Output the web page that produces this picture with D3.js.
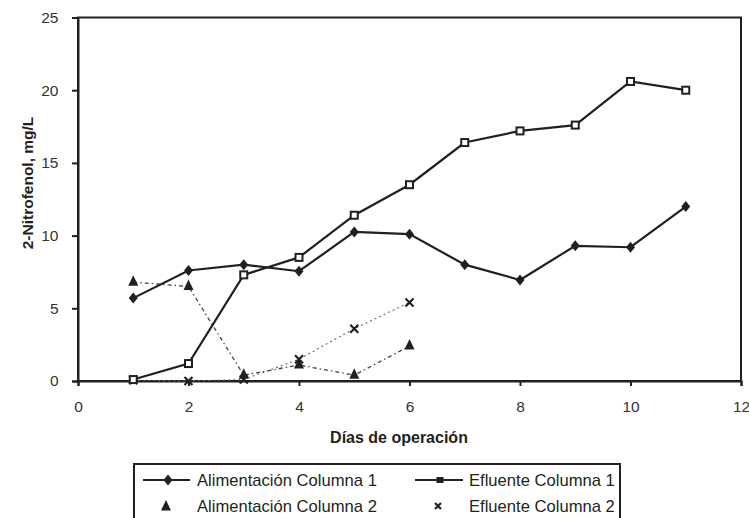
<!DOCTYPE html>
<html>
<head>
<meta charset="utf-8">
<script src="https://cdn.jsdelivr.net/npm/d3@7"></script>
<style>
  html, body { margin: 0; padding: 0; background: #fff; }
  svg { display: block; font-family: "Liberation Sans", Arial, sans-serif; }
</style>
</head>
<body>
<svg id="chart" width="749" height="518"></svg>
<script>
const days = [1, 2, 3, 4, 5, 6, 7, 8, 9, 10, 11];
const alimCol1 = [5.7, 7.6, 8.0, 7.55, 10.25, 10.1, 8.0, 6.95, 9.3, 9.2, 12.0];
const eflCol1  = [0.1, 1.2, 7.3, 8.5, 11.4, 13.5, 16.4, 17.2, 17.6, 20.6, 20.0];
const days2 = [1, 2, 3, 4, 5, 6];
const alimCol2 = [6.8, 6.5, 0.4, 1.1, 0.4, 2.4];
const eflCol2  = [0.05, 0.0, 0.1, 1.5, 3.6, 5.4];
const xTicks = [0, 2, 4, 6, 8, 10, 12];
const yTicks = [0, 5, 10, 15, 20, 25];
const xTitle = "Días de operación";
const yTitle = "2-Nitrofenol, mg/L";
const legendLabels = ["Alimentación Columna 1", "Efluente Columna 1", "Alimentación Columna 2", "Efluente Columna 2"];

(function () {
const svg = d3.select("#chart");
const ink = "#231f20";
const pL = 78, pR = 741, pT = 17.5, pB = 381;
const x = d3.scaleLinear().domain([0, 12]).range([pL, pR]);
const y = d3.scaleLinear().domain([0, 25]).range([pB, pT]);

// frame
svg.append("rect").attr("x", pL).attr("y", pT).attr("width", pR - pL).attr("height", pB - pT)
  .attr("fill", "none").attr("stroke", ink).attr("stroke-width", 2);

// axes
const xAxis = svg.append("g").attr("transform", `translate(0,${pB})`)
  .call(d3.axisBottom(x).tickValues(xTicks).tickSize(5).tickPadding(15).tickFormat(d3.format("d")));
const yAxis = svg.append("g").attr("transform", `translate(${pL},0)`)
  .call(d3.axisLeft(y).tickValues(yTicks).tickSize(6).tickPadding(13.5).tickFormat(d3.format("d")));
[xAxis, yAxis].forEach(g => {
  g.select(".domain").attr("stroke", ink).attr("stroke-width", 2);
  g.selectAll(".tick line").attr("stroke", ink).attr("stroke-width", 2);
  g.selectAll(".tick text").attr("fill", "#333").attr("font-size", 15.5)
    .attr("font-family", "'Liberation Sans', Arial, sans-serif");
});

// titles
svg.append("text").attr("x", 399).attr("y", 437).attr("dy", "0.35em").attr("text-anchor", "middle")
  .attr("font-size", 16).attr("font-weight", "bold").attr("fill", ink).text(xTitle);
svg.append("text").attr("transform", `translate(28,183) rotate(-90)`).attr("dy", "0.35em")
  .attr("text-anchor", "middle").attr("font-size", 15.5).attr("font-weight", "bold").attr("fill", ink).text(yTitle);

const line = d3.line().x(d => x(d[0])).y(d => y(d[1]));
const zip = (a, b) => a.map((v, i) => [v, b[i]]);

// series 2 lines (thin dashed/dotted)
svg.append("path").datum(zip(days2, alimCol2)).attr("d", line)
  .attr("fill", "none").attr("stroke", "#444").attr("stroke-width", 1.3).attr("stroke-dasharray", "4,3,1.5,3");
svg.append("path").datum(zip(days2, eflCol2)).attr("d", line)
  .attr("fill", "none").attr("stroke", "#666").attr("stroke-width", 1.1).attr("stroke-dasharray", "2,3");

// series 1 lines
svg.append("path").datum(zip(days, alimCol1)).attr("d", line)
  .attr("fill", "none").attr("stroke", ink).attr("stroke-width", 2.2);
svg.append("path").datum(zip(days, eflCol1)).attr("d", line)
  .attr("fill", "none").attr("stroke", ink).attr("stroke-width", 2.2);

function drawDiamond(g, px, py) {
  g.append("path").attr("d", "M0,-5.5L4.5,0L0,5.5L-4.5,0Z").attr("transform", `translate(${px},${py})`).attr("fill", ink);
}
function drawSquare(g, px, py, s) {
  g.append("rect").attr("x", px - s / 2).attr("y", py - s / 2).attr("width", s).attr("height", s)
    .attr("fill", "#fff").attr("stroke", ink).attr("stroke-width", 2);
}
function drawTri(g, px, py) {
  g.append("path").attr("d", "M0,-6L5,4.5L-5,4.5Z").attr("transform", `translate(${px},${py - 1})`).attr("fill", ink);
}
function drawX(g, px, py, s) {
  g.append("path").attr("d", `M${-s},${-s}L${s},${s}M${-s},${s}L${s},${-s}`).attr("transform", `translate(${px},${py})`)
    .attr("stroke", ink).attr("stroke-width", 2.2).attr("fill", "none");
}
const mk = svg.append("g");
zip(days2, eflCol2).forEach(d => drawX(mk, x(d[0]), y(d[1]), 4));
zip(days2, alimCol2).forEach(d => drawTri(mk, x(d[0]), y(d[1])));
zip(days, alimCol1).forEach(d => drawDiamond(mk, x(d[0]), y(d[1])));
zip(days, eflCol1).forEach(d => drawSquare(mk, x(d[0]), y(d[1]), 7));

// legend
const lg = svg.append("g");
lg.append("rect").attr("x", 134).attr("y", 464).attr("width", 620 - 134).attr("height", 80)
  .attr("fill", "#fff").attr("stroke", ink).attr("stroke-width", 2);
const rows = [480, 506];
const cols = [[143, 190, 197], [415, 463, 469]];
[0, 1].forEach(c => {
  lg.append("line").attr("x1", cols[c][0]).attr("x2", cols[c][1]).attr("y1", rows[0]).attr("y2", rows[0])
    .attr("stroke", ink).attr("stroke-width", 2);
});
drawDiamond(lg, 168, rows[0]);
lg.append("rect").attr("x", 440 - 3.5).attr("y", rows[0] - 3).attr("width", 7).attr("height", 6).attr("fill", ink);
drawTri(lg, 166, rows[1] + 1);
drawX(lg, 438, rows[1], 3);
legendLabels.forEach((t, i) => {
  const c = i % 2, r = Math.floor(i / 2);
  lg.append("text").attr("x", cols[c][2]).attr("y", rows[r]).attr("dy", "0.35em")
    .attr("font-size", 16.6).attr("fill", ink).text(t);
});
})();
</script>
</body>
</html>
